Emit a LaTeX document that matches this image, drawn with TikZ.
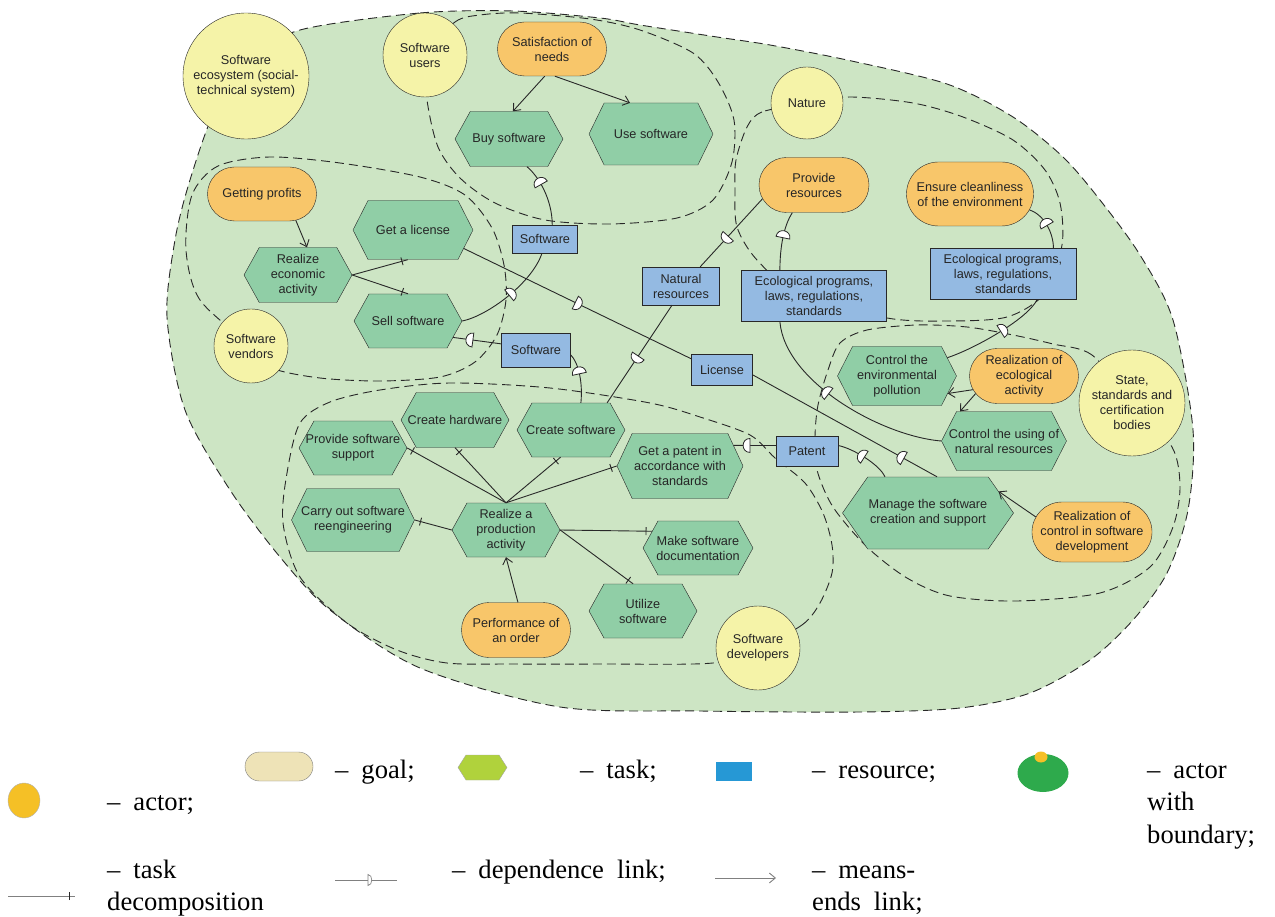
\documentclass[tikz,border=0pt]{standalone}
\usepackage{fontspec}
\setmainfont{Liberation Serif}
\newfontfamily\arialfont{Liberation Sans}
\usetikzlibrary{shapes.symbols,shapes.misc,shapes.geometric,arrows.meta,decorations.markings}

\definecolor{blobfill}{RGB}{205,229,196}
\definecolor{taskfill}{RGB}{144,206,166}
\definecolor{goalfill}{RGB}{248,198,106}
\definecolor{actorfill}{RGB}{245,243,168}
\definecolor{resfill}{RGB}{148,186,226}
\definecolor{edgecol}{RGB}{40,40,40}
\definecolor{legline}{RGB}{128,128,128}
\definecolor{leggoal}{RGB}{238,227,183}
\definecolor{legtask}{RGB}{176,210,60}
\definecolor{legres}{RGB}{38,152,213}
\definecolor{legactor}{RGB}{245,192,38}
\definecolor{legblob}{RGB}{46,170,76}

% D of a dependency link, 1 = bulge forward, -1 = bulge backward
\newcommand\dglyph[1]{\draw[edgecol,fill=white,line width=0.8pt,scale=#1]
  (0pt,-7pt) .. controls (9.3pt,-7pt) and (9.3pt,7pt) .. (0pt,7pt) -- cycle;}
\newcommand\legfont{\rmfamily\fontsize{26.6}{32.5}\selectfont\spaceskip=13pt\relax}

\tikzset{
  every node/.style={font=\arialfont\fontsize{12.7}{15}\selectfont,text=black!85,align=center},
  actor/.style={circle,draw=edgecol,fill=actorfill,inner sep=0pt,minimum size=#1},
  goal/.style={rounded rectangle,draw=edgecol,fill=goalfill,inner sep=0pt,minimum width=109pt,minimum height=54pt},
  task/.style={signal,signal to=west and east,signal pointer angle=122,draw=edgecol,fill=taskfill,
    inner ysep=0pt,inner xsep=-9pt,minimum width=108pt,minimum height=55pt},
  res/.style={rectangle,draw=edgecol,fill=resfill,inner sep=0pt},
  bound/.style={draw=edgecol,line width=0.9pt,dash pattern=on 9pt off 5pt},
  link/.style={draw=edgecol,line width=0.9pt},
  meansend/.style={link,-{Straight Barb[length=6pt,width=10pt]}},
  decomp/.style={link,postaction={decorate,decoration={markings,
    mark=at position -6pt with {\draw[edgecol,line width=0.9pt] (0pt,-4pt) -- (0pt,4pt);}}}},
  dep/.style={link,postaction={decorate,decoration={markings,mark=at position #1 with {\dglyph{-1}}}}},
  depf/.style={link,postaction={decorate,decoration={markings,mark=at position #1 with {\dglyph{1}}}}},
  legtext/.style={font=\legfont,text=black,align=left,inner sep=0pt,anchor=base west}
}

\begin{document}
\begin{tikzpicture}[x=1pt,y=-1pt]
  \useasboundingbox (0,0) rectangle (1275,917);
  % the software ecosystem
  \draw[bound,fill=blobfill] plot[smooth cycle] coordinates {(300,30) (420,13) (513,11) (600,18) (640,25)
    (717,37) (770,45) (847,60) (947,84) (1013,117) (1063,157) (1100,200) (1140,255) (1173,320) (1193,430)
    (1188,510) (1167,573) (1133,620) (1090,660) (1030,693) (960,708) (860,712) (700,711) (560,707) (420,668)
    (330,610) (280,557) (230,490) (185,410) (167,317) (175,240) (190,180) (215,110) (250,60)};
  % actor boundaries
  \draw[bound] plot[smooth cycle] coordinates {(425,55) (455,22) (480,15) (520,13) (590,19) (640,30) (693,53)
    (718,82) (734,120) (732,162) (713,200) (677,218) (610,224) (545,220) (495,203) (460,178) (438,147) (427,100)};
  \draw[bound] plot[smooth cycle] coordinates {(251,346) (200,300) (186,250) (192,195) (218,166) (270,157)
    (340,163) (420,177) (465,195) (492,228) (504,265) (506,300) (497,335) (475,362) (440,377) (380,381)
    (320,378) (272,368)};
  \draw[bound] plot[smooth cycle] coordinates {(807,103) (762,112) (747,127) (736,160) (735,190) (737,227)
    (757,260) (800,295) (887,318) (947,321) (1007,317) (1045,293) (1062,245) (1060,203) (1045,170)
    (1013,140) (963,117) (913,103) (850,97)};
  \draw[bound] plot[smooth cycle] coordinates {(1132,403) (1092,355) (1053,344) (1013,335) (967,327)
    (917,325) (867,330) (840,343) (828,370) (818,405) (815,437) (817,470) (833,507) (867,547) (907,578)
    (950,596) (1017,601) (1100,593) (1150,567) (1173,527) (1180,487) (1172,447)};
  \draw[bound] plot[smooth cycle] coordinates {(758,648) (802,625) (820,603) (832,573) (832,545) (823,513)
    (805,483) (775,458) (750,435) (700,417) (650,403) (550,388) (450,383) (380,390) (330,402) (300,423)
    (287,473) (283,523) (300,577) (347,623) (397,650) (447,663) (513,664) (600,664) (713,663)};

  % actors
  \node[actor=126pt] (ecosys) at (246,76) {Software\\ecosystem (social-\\technical system)};
  \node[actor=84pt] (users) at (425,55) {Software\\users};
  \node[actor=72pt] (nature) at (807,103) {Nature};
  \node[actor=74pt] (vendors) at (251,346) {Software\\vendors};
  \node[actor=106pt] (state) at (1132,403) {State,\\standards and\\certification\\bodies};
  \node[actor=84pt] (developers) at (758,648) {Software\\developers};

  % goals
  \node[goal] (satisfy) at (552,49) {Satisfaction of\\needs};
  \node[goal] (profits) at (262,194) {Getting profits};
  \node[goal,minimum width=110pt,minimum height=55pt] (provide) at (814,185) {Provide\\resources};
  \node[goal,minimum width=127pt,minimum height=64pt] (clean) at (970,194) {Ensure cleanliness\\of the environment};
  \node[goal,minimum height=55pt] (ecoact) at (1024,376) {Realization of\\ecological\\activity};
  \node[goal,minimum width=120pt,minimum height=60pt] (swctrl) at (1092,532) {Realization of\\control in software\\development};
  \node[goal,minimum height=55pt] (order) at (516,630) {Performance of\\an order};

  % tasks
  \node[task] (buy) at (509,139) {Buy software};
  \node[task,minimum width=124pt,minimum height=62pt,signal pointer angle=128] (use) at (651,134) {Use software};
  \node[task,minimum width=120pt,minimum height=59pt,signal pointer angle=126] (getlic) at (413,230) {Get a license};
  \node[task] (econ) at (298,275) {Realize\\economic\\activity};
  \node[task,minimum height=54pt] (sell) at (408,321) {Sell software};
  \node[task,minimum width=119pt,minimum height=59pt,signal pointer angle=126] (pollution) at (897,376) {Control the\\environmental\\pollution};
  \node[task,minimum width=125pt,minimum height=59pt,signal pointer angle=126] (natuse) at (1004,441) {Control the using of\\natural resources};
  \node[task,minimum width=171pt,minimum height=72pt,signal pointer angle=110] (manage) at (928,513) {Manage the software\\creation and support};
  \node[task,minimum height=54pt] (support) at (353,448) {Provide software\\support};
  \node[task] (hardware) at (455,420) {Create hardware};
  \node[task,minimum height=54pt] (createsw) at (571,430) {Create software};
  \node[task,minimum width=126pt,minimum height=65pt,signal pointer angle=130] (gpatent) at (680,466) {Get a patent in\\accordance with\\standards};
  \node[task,minimum width=123pt,minimum height=63pt,signal pointer angle=128] (reeng) at (353,520) {Carry out software\\reengineering};
  \node[task,minimum height=54pt] (produce) at (506,530) {Realize a\\production\\activity};
  \node[task,minimum width=110pt,minimum height=54pt] (docs) at (698,548) {Make software\\documentation};
  \node[task,minimum height=54pt] (utilize) at (643,611) {Utilize\\software};

  % resources
  \node[res,minimum width=65pt,minimum height=28pt] (swres) at (545,239) {Software};
  \node[res,minimum width=69pt,minimum height=34pt] (swres2) at (536,350) {Software};
  \node[res,minimum width=77pt,minimum height=38pt] (natres) at (681,286) {Natural\\resources};
  \node[res,minimum width=145pt,minimum height=51pt] (ecoprog) at (814,296) {Ecological programs,\\laws, regulations,\\standards};
  \node[res,minimum width=146pt,minimum height=51pt] (ecoprog2) at (1003,274) {Ecological programs,\\laws, regulations,\\standards};
  \node[res,minimum width=61pt,minimum height=31pt] (licres) at (722,370) {License};
  \node[res,minimum width=62pt,minimum height=30pt] (patres) at (807,451) {Patent};

  % means-ends links
  \draw[meansend] (satisfy.255) -- (buy.82);
  \draw[meansend] (satisfy.276) -- (use.124);
  \draw[meansend] (profits.-38) -- (econ.72);
  \draw[meansend] (ecoact.195) -- (pollution.-19);
  \draw[meansend] (ecoact.200) -- (natuse.146);
  \draw[meansend] (swctrl.165) -- (manage.17);
  \draw[meansend] (order.86) -- (produce.south);

  % task decompositions
  \draw[decomp] (econ.east) -- (getlic.260);
  \draw[decomp] (econ.east) -- (sell.north);
  \draw[decomp] (produce.north) -- (support.east);
  \draw[decomp] (produce.north) -- (hardware.south);
  \draw[decomp] (produce.north) -- (createsw.249);
  \draw[decomp] (produce.north) -- (gpatent.west);
  \draw[decomp] (produce.west) -- (reeng.east);
  \draw[decomp] (produce.east) -- (docs.160);
  \draw[decomp] (produce.east) -- (utilize.110);

  % dependencies
  \draw[dep=0.35] (buy.-57) .. controls +(12,10) and +(0,-25) .. (swres.63);
  \draw[dep=0.5] (swres.258) .. controls +(-10,30) and +(25,-5) .. (sell.east);
  \draw[depf=0.49] (getlic.-20) -- (licres.160);
  \draw[dep=0.41] (sell.-20) -- (swres2.170);
  \draw[dep=0.42] (swres2.-8) .. controls +(8,8) and +(2,-20) .. (createsw.70);
  \draw[dep=0.48] (createsw.37) -- (natres.245);
  \draw[dep=0.45] (natres.45) -- (provide.195);
  \draw[depf=0.55] (ecoprog.143) .. controls +(0,-25) and +(-8,12) .. (provide.232);
  \draw[dep=0.5] (clean.-15) .. controls +(15,5) and +(0,-15) .. (ecoprog2.27);
  \draw[dep=0.45] (ecoprog2.-37) .. controls +(-10,20) and +(25,-8) .. (pollution.20);
  \draw[dep=0.42] (ecoprog.217) .. controls +(5,60) and +(-60,-5) .. (natuse.west);
  \draw[dep=0.82] (licres.-9) -- (manage.76);
  \draw[dep=0.39] (gpatent.21) -- (patres.170);
  \draw[dep=0.5] (patres.10) .. controls +(15,3) and +(-5,-12) .. (manage.140);

  % legend
  \node[rounded rectangle,draw=legline,fill=leggoal,inner sep=0pt,minimum width=68pt,minimum height=29pt] (goalicon) at (279,766.5) {};
  \node[signal,signal to=west and east,signal pointer angle=115,draw=legline!70,fill=legtask,inner sep=0pt,minimum width=49pt,minimum height=25pt] (taskicon) at (482.5,767.5) {};
  \node[rectangle,fill=legres,inner sep=0pt,minimum width=36pt,minimum height=19pt] (resicon) at (734,771.5) {};
  \node[ellipse,fill=legblob,inner sep=0pt,minimum width=51pt,minimum height=38pt] (bndicon) at (1043,773) {};
  \node[ellipse,fill=legactor,inner sep=0pt,minimum width=13pt,minimum height=11pt] (bnddot) at (1041,757) {};
  \node[ellipse,draw=legline!60,fill=legactor,inner sep=0pt,minimum width=32pt,minimum height=35pt] (actoricon) at (24,800.5) {};
  \coordinate (decA) at (8,896);
  \coordinate (decB) at (75,896);
  \draw[decomp,draw=legline] (decA) -- (decB);
  \coordinate (depA) at (335,880);
  \coordinate (depB) at (397,880);
  \draw[link,draw=legline] (depA) -- (depB);
  \draw[legline,fill=white,line width=0.7pt] (368,874.5) .. controls (373,874.5) and (373,885.5) .. (368,885.5) -- cycle;
  \coordinate (meA) at (715,878);
  \coordinate (meB) at (776,878);
  \draw[meansend,draw=legline] (meA) -- (meB);

  \node[legtext] (txtgoal) at (335,778) {– goal;};
  \node[legtext] (txttask) at (580,778) {– task;};
  \node[legtext] (txtres) at (812,778) {– resource;};
  \node[legtext] (txtbnd) at (1147,843) {– actor\\with\\boundary;};
  \node[legtext] (txtactor) at (107,810) {– actor;};
  \node[legtext] (txtdec) at (107,910.5) {– task\\decomposition};
  \node[legtext] (txtdep) at (452,878) {– dependence link;};
  \node[legtext] (txtme) at (812,910.5) {– means-\\ends link;};
\end{tikzpicture}
\end{document}
